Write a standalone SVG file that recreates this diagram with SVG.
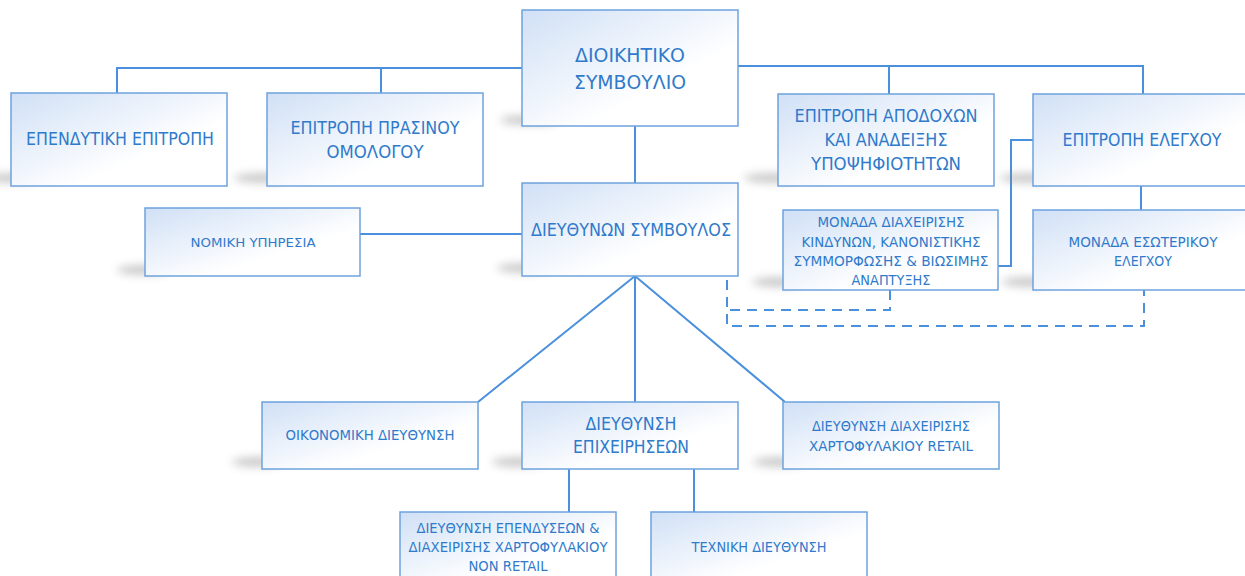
<svg xmlns="http://www.w3.org/2000/svg" width="1245" height="576" viewBox="0 0 1245 576">
<defs>
<linearGradient id="g" x1="0" y1="0" x2="1" y2="1">
<stop offset="0" stop-color="#d0e0f6"/>
<stop offset="0.65" stop-color="#ffffff"/>
</linearGradient>
<filter id="blur" x="-50%" y="-200%" width="200%" height="500%"><feGaussianBlur stdDeviation="4"/></filter>
</defs>
<style>
rect.box{fill:url(#g);stroke:#6ea3dd;stroke-width:1.5}
.sh{fill:#8a8a8a;opacity:0.45;filter:url(#blur)}
text{font-family:"Liberation Sans Narrow","DejaVu Sans Condensed","Liberation Sans",sans-serif;fill:#2f7acb;text-anchor:middle}
.c{fill:none;stroke:#4a90dc;stroke-width:2}
.d{fill:none;stroke:#4a90dc;stroke-width:2;stroke-dasharray:10 7}
</style>
<rect width="1245" height="576" fill="#ffffff"/>
<g id="connectors">
<polyline class="c" points="117,93 117,68 522,68"/>
<line class="c" x1="381" y1="68" x2="381" y2="93"/>
<polyline class="c" points="738,66 1143,66 1143,94"/>
<line class="c" x1="889" y1="66" x2="889" y2="94"/>
<line class="c" x1="635" y1="126" x2="635" y2="183"/>
<line class="c" x1="360" y1="234" x2="522" y2="234"/>
<polyline class="c" points="1033,140 1011,140 1011,266 998,266"/>
<line class="c" x1="1141" y1="186" x2="1141" y2="210"/>
<polyline class="c" points="478,402 635,276 785,402"/>
<line class="c" x1="635" y1="276" x2="635" y2="402"/>
<line class="c" x1="569" y1="469" x2="569" y2="512"/>
<line class="c" x1="694" y1="469" x2="694" y2="512"/>
<polyline class="d" points="890,290 890,310 727,310"/>
<polyline class="d" points="727,280 727,326 1144,326 1144,290"/>
</g>
<g id="n-board">
<ellipse class="sh" cx="530" cy="120" rx="30" ry="5"/>
<rect class="box" x="522" y="10" width="216" height="116"/>
<text x="630" y="62" font-size="20" textLength="110" lengthAdjust="spacingAndGlyphs">ΔΙΟΙΚΗΤΙΚΟ</text>
<text x="630" y="89" font-size="20" textLength="112" lengthAdjust="spacingAndGlyphs">ΣΥΜΒΟΥΛΙΟ</text>
</g>
<g id="n-invest">
<ellipse class="sh" cx="14" cy="178" rx="28" ry="5"/>
<rect class="box" x="11" y="93" width="216" height="93"/>
<text x="120" y="145" font-size="18" textLength="188" lengthAdjust="spacingAndGlyphs">ΕΠΕΝΔΥΤΙΚΗ ΕΠΙΤΡΟΠΗ</text>
</g>
<g id="n-green">
<ellipse class="sh" cx="262" cy="178" rx="28" ry="5"/>
<rect class="box" x="267" y="93" width="216" height="93"/>
<text x="375" y="134" font-size="18" textLength="169" lengthAdjust="spacingAndGlyphs">ΕΠΙΤΡΟΠΗ ΠΡΑΣΙΝΟΥ</text>
<text x="375" y="158" font-size="18" textLength="97" lengthAdjust="spacingAndGlyphs">ΟΜΟΛΟΓΟΥ</text>
</g>
<g id="n-remun">
<ellipse class="sh" cx="772" cy="178" rx="28" ry="5"/>
<rect class="box" x="778" y="94" width="216" height="92"/>
<text x="886" y="122" font-size="18" textLength="183" lengthAdjust="spacingAndGlyphs">ΕΠΙΤΡΟΠΗ ΑΠΟΔΟΧΩΝ</text>
<text x="886" y="146" font-size="18" textLength="123" lengthAdjust="spacingAndGlyphs">ΚΑΙ ΑΝΑΔΕΙΞΗΣ</text>
<text x="886" y="170" font-size="18" textLength="150" lengthAdjust="spacingAndGlyphs">ΥΠΟΨΗΦΙΟΤΗΤΩΝ</text>
</g>
<g id="n-audit">
<ellipse class="sh" cx="1028" cy="178" rx="28" ry="5"/>
<rect class="box" x="1033" y="94" width="216" height="92"/>
<text x="1142" y="146" font-size="18" textLength="159" lengthAdjust="spacingAndGlyphs">ΕΠΙΤΡΟΠΗ ΕΛΕΓΧΟΥ</text>
</g>
<g id="n-ceo">
<ellipse class="sh" cx="525" cy="268" rx="28" ry="5"/>
<rect class="box" x="522" y="183" width="216" height="93"/>
<text x="631" y="236" font-size="18" textLength="200" lengthAdjust="spacingAndGlyphs">ΔΙΕΥΘΥΝΩΝ ΣΥΜΒΟΥΛΟΣ</text>
</g>
<g id="n-legal">
<ellipse class="sh" cx="143" cy="270" rx="26" ry="5"/>
<rect class="box" x="145" y="208" width="215" height="68"/>
<text x="253" y="247" font-size="13" textLength="125" lengthAdjust="spacingAndGlyphs">ΝΟΜΙΚΗ ΥΠΗΡΕΣΙΑ</text>
</g>
<g id="n-risk">
<ellipse class="sh" cx="778" cy="282" rx="26" ry="5"/>
<rect class="box" x="783" y="210" width="215" height="80"/>
<text x="891" y="227" font-size="14" textLength="147" lengthAdjust="spacingAndGlyphs">ΜΟΝΑΔΑ ΔΙΑΧΕΙΡΙΣΗΣ</text>
<text x="891" y="247" font-size="14" textLength="179" lengthAdjust="spacingAndGlyphs">ΚΙΝΔΥΝΩΝ, ΚΑΝΟΝΙΣΤΙΚΗΣ</text>
<text x="891" y="266" font-size="14" textLength="195" lengthAdjust="spacingAndGlyphs">ΣΥΜΜΟΡΦΩΣΗΣ &amp; ΒΙΩΣΙΜΗΣ</text>
<text x="891" y="285" font-size="14" textLength="79" lengthAdjust="spacingAndGlyphs">ΑΝΑΠΤΥΞΗΣ</text>
</g>
<g id="n-internal">
<ellipse class="sh" cx="1028" cy="282" rx="26" ry="5"/>
<rect class="box" x="1033" y="210" width="216" height="80"/>
<text x="1143" y="247" font-size="14" textLength="149" lengthAdjust="spacingAndGlyphs">ΜΟΝΑΔΑ ΕΣΩΤΕΡΙΚΟΥ</text>
<text x="1143" y="266" font-size="14">ΕΛΕΓΧΟΥ</text>
</g>
<g id="n-finance">
<ellipse class="sh" cx="258" cy="462" rx="26" ry="5"/>
<rect class="box" x="262" y="402" width="216" height="67"/>
<text x="370" y="440" font-size="14" textLength="169" lengthAdjust="spacingAndGlyphs">ΟΙΚΟΝΟΜΙΚΗ ΔΙΕΥΘΥΝΣΗ</text>
</g>
<g id="n-ops">
<ellipse class="sh" cx="518" cy="462" rx="26" ry="5"/>
<rect class="box" x="522" y="402" width="216" height="67"/>
<text x="631" y="430" font-size="18" textLength="91" lengthAdjust="spacingAndGlyphs">ΔΙΕΥΘΥΝΣΗ</text>
<text x="631" y="453" font-size="18" textLength="116" lengthAdjust="spacingAndGlyphs">ΕΠΙΧΕΙΡΗΣΕΩΝ</text>
</g>
<g id="n-retail">
<ellipse class="sh" cx="779" cy="462" rx="26" ry="5"/>
<rect class="box" x="783" y="402" width="216" height="67"/>
<text x="891" y="431" font-size="14" textLength="158" lengthAdjust="spacingAndGlyphs">ΔΙΕΥΘΥΝΣΗ ΔΙΑΧΕΙΡΙΣΗΣ</text>
<text x="891" y="451" font-size="14" textLength="164" lengthAdjust="spacingAndGlyphs">ΧΑΡΤΟΦΥΛΑΚΙΟΥ RETAIL</text>
</g>
<g id="n-nonretail">
<rect class="box" x="400" y="512" width="216" height="70"/>
<text x="508" y="533" font-size="14" textLength="183" lengthAdjust="spacingAndGlyphs">ΔΙΕΥΘΥΝΣΗ ΕΠΕΝΔΥΣΕΩΝ &amp;</text>
<text x="508" y="552" font-size="14" textLength="199" lengthAdjust="spacingAndGlyphs">ΔΙΑΧΕΙΡΙΣΗΣ ΧΑΡΤΟΦΥΛΑΚΙΟΥ</text>
<text x="508" y="571" font-size="14" textLength="79" lengthAdjust="spacingAndGlyphs">NON RETAIL</text>
</g>
<g id="n-tech">
<rect class="box" x="651" y="512" width="216" height="70"/>
<text x="759" y="552" font-size="14" textLength="135" lengthAdjust="spacingAndGlyphs">ΤΕΧΝΙΚΗ ΔΙΕΥΘΥΝΣΗ</text>
</g>
</svg>
